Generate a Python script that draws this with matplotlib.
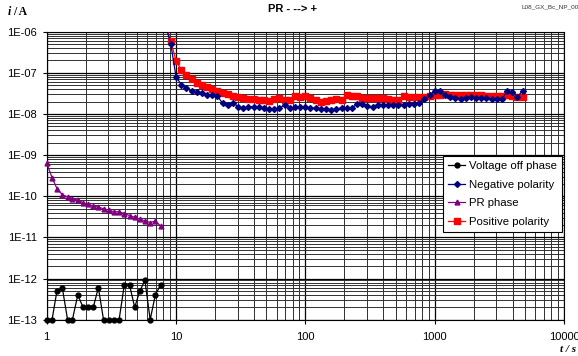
import matplotlib
matplotlib.use("Agg")
import matplotlib.pyplot as plt
from matplotlib.ticker import LogLocator, FixedLocator, NullFormatter

# ---------------- data ----------------
t_early = [1, 1.1, 1.2, 1.32, 1.45, 1.58, 1.74, 1.91, 2.09, 2.29, 2.51, 2.75,
           3.02, 3.31, 3.63, 3.98, 4.37, 4.79, 5.25, 5.75, 6.31, 6.92, 7.59]

voltage_off = [1e-13, 1e-13, 5e-13, 6e-13, 1e-13, 1e-13, 4e-13, 2e-13, 2e-13,
               2e-13, 6e-13, 1e-13, 1e-13, 1e-13, 1e-13, 7e-13, 7e-13, 2e-13,
               5e-13, 9e-13, 1e-13, 4e-13, 7e-13]

pr_phase = [6.3e-10, 2.85e-10, 1.54e-10, 1.1e-10, 9.6e-11, 8.8e-11, 8.0e-11,
            7.0e-11, 6.4e-11, 5.8e-11, 5.4e-11, 5.0e-11, 4.6e-11, 4.2e-11,
            4.2e-11, 3.8e-11, 3.4e-11, 3.1e-11, 2.8e-11, 2.5e-11, 2.3e-11,
            2.5e-11, 1.9e-11]

t_late = [8.32, 9.12, 10, 10.96, 12.02, 13.18, 14.45, 15.85, 17.38, 19.05,
          20.89, 22.91, 25.12, 27.54, 30.2, 33.11, 36.31, 39.81, 43.65, 47.86,
          52.48, 57.54, 63.1, 69.18, 75.86, 83.18, 91.2, 100, 109.6, 120.2,
          131.8, 144.5, 158.5, 173.8, 190.5, 208.9, 229.1, 251.2, 275.4, 302,
          331.1, 363.1, 398.1, 436.5, 478.6, 524.8, 575.4, 631, 691.8, 758.6,
          831.8, 912, 1000, 1096, 1202, 1318, 1445, 1585, 1738, 1905, 2089,
          2291, 2512, 2754, 3020, 3311, 3631, 3981, 4365, 4786]

negative = [1.4e-6, 4.9e-7, 8.05e-8, 5.2e-8, 4.25e-8, 3.58e-8, 3.48e-8, 3.15e-8,
            2.9e-8, 2.86e-8, 2.77e-8, 1.8e-8, 1.63e-8, 1.9e-8, 1.5e-8, 1.42e-8,
            1.48e-8, 1.52e-8, 1.48e-8, 1.41e-8, 1.33e-8, 1.31e-8, 1.37e-8,
            1.7e-8, 1.37e-8, 1.46e-8, 1.5e-8, 1.44e-8, 1.42e-8, 1.38e-8,
            1.35e-8, 1.32e-8, 1.25e-8, 1.35e-8, 1.38e-8, 1.38e-8, 1.42e-8,
            1.73e-8, 1.75e-8, 1.56e-8, 1.5e-8, 1.7e-8, 1.7e-8, 1.65e-8,
            1.63e-8, 1.63e-8, 1.7e-8, 1.73e-8, 1.75e-8, 1.85e-8, 2.27e-8,
            2.85e-8, 3.7e-8, 3.7e-8, 2.85e-8, 2.55e-8, 2.5e-8, 2.35e-8,
            2.45e-8, 2.55e-8, 2.45e-8, 2.45e-8, 2.45e-8, 2.35e-8, 2.35e-8,
            2.27e-8, 3.6e-8, 3.35e-8, 2.6e-8, 3.7e-8]

positive = [1.4e-6, 5.9e-7, 1.95e-7, 1.2e-7, 9.1e-8, 7.1e-8, 5.75e-8, 5.05e-8,
            4.45e-8, 4.0e-8, 3.62e-8, 3.24e-8, 3.06e-8, 2.8e-8, 2.62e-8,
            2.45e-8, 2.31e-8, 2.25e-8, 2.19e-8, 2.13e-8, 2.07e-8, 2.31e-8,
            2.38e-8, 2.23e-8, 2.19e-8, 2.7e-8, 2.64e-8, 2.67e-8, 2.5e-8,
            2.19e-8, 1.96e-8, 2.1e-8, 2.19e-8, 2.25e-8, 2.19e-8, 2.85e-8,
            2.8e-8, 2.74e-8, 2.45e-8, 2.4e-8, 2.4e-8, 2.42e-8, 2.45e-8,
            2.31e-8, 2.23e-8, 2.19e-8, 2.74e-8, 2.64e-8, 2.59e-8, 2.59e-8,
            2.64e-8, 2.7e-8, 2.85e-8, 2.92e-8, 2.98e-8, 2.92e-8, 2.92e-8,
            2.95e-8, 2.92e-8, 2.92e-8, 2.89e-8, 2.85e-8, 2.7e-8, 2.7e-8,
            2.7e-8, 2.74e-8, 2.85e-8, 2.74e-8, 2.55e-8, 2.55e-8]

x_ticks = [1, 10, 100, 1000, 10000]
x_ticklabels = ["1", "10", "100", "1000", "10000"]
y_ticks = [1e-13, 1e-12, 1e-11, 1e-10, 1e-9, 1e-8, 1e-7, 1e-6]
y_ticklabels = ["1E-13", "1E-12", "1E-11", "1E-10", "1E-09", "1E-08", "1E-07", "1E-06"]

# ---------------- figure ----------------
plt.rcParams['font.family'] = ['Liberation Sans', 'DejaVu Sans']
fig = plt.figure(figsize=(5.78, 3.56), dpi=100)
ax = fig.add_axes([46.7 / 578, 1 - 319.7 / 356, (564 - 46.7) / 578, (319.7 - 31.7) / 356])

ax.set_xscale('log')
ax.set_yscale('log')
ax.set_xlim(1, 10000)
ax.set_ylim(1e-13, 1e-6)

ax.xaxis.set_major_locator(FixedLocator(x_ticks))
ax.set_xticklabels(x_ticklabels)
ax.xaxis.set_minor_locator(LogLocator(base=10, subs=range(2, 10), numticks=20))
ax.xaxis.set_minor_formatter(NullFormatter())
ax.yaxis.set_major_locator(FixedLocator(y_ticks))
ax.set_yticklabels(y_ticklabels)
ax.yaxis.set_minor_locator(LogLocator(base=10, subs=range(2, 10), numticks=20))
ax.yaxis.set_minor_formatter(NullFormatter())

ax.grid(which='major', color='black', linewidth=0.9)
ax.grid(which='minor', color='#303030', linewidth=0.7)
ax.set_axisbelow(True)

ax.tick_params(axis='both', which='minor', length=0)
ax.tick_params(axis='x', which='major', direction='out', length=3, width=0.8,
               labelsize=8, pad=6)
ax.tick_params(axis='y', which='major', direction='out', length=3, width=0.8,
               labelsize=8, pad=4)
for s in ax.spines.values():
    s.set_color('black')
    s.set_linewidth(0.8)

h1, = ax.plot(t_early, voltage_off, color='black', marker='o', markersize=3.5,
              linewidth=0.9, clip_on=False, zorder=5, label='Voltage off phase')
h3, = ax.plot(t_early, pr_phase, color='#800080', marker='^', markersize=3.5,
              linewidth=0.9, clip_on=False, zorder=5, label='PR phase')
h4, = ax.plot(t_late, positive, color='#ff0000', marker='s', markersize=4.5,
              linewidth=0.9, zorder=4, label='Positive polarity')
h2, = ax.plot(t_late, negative, color='#000080', marker='D', markersize=3,
              linewidth=0.9, zorder=5, label='Negative polarity')

leg = ax.legend(handles=[h1, h2, h3, h4], loc='upper left',
                bbox_to_anchor=(0.766, 0.568), borderaxespad=0, fontsize=8.2,
                fancybox=False, framealpha=1, edgecolor='black',
                handlelength=1.5, labelspacing=0.75, borderpad=0.45,
                handletextpad=0.35)
leg.get_frame().set_linewidth(0.8)
leg.set_zorder(10)

fig.text(293 / 578, 1 - 9 / 356, "PR - --> +", ha='center', va='center',
         fontsize=8, fontweight='bold')
fig.text(8 / 578, 1 - 12 / 356, "i", ha='left', va='center', fontsize=8.5,
         fontweight='bold', fontstyle='italic', family='Liberation Serif')
fig.text(13 / 578, 1 - 12 / 356, "/ A", ha='left', va='center', fontsize=8.5,
         fontweight='bold', family='Liberation Serif')
fig.text(521 / 578, 1 - 7 / 356, "L08_GX_Bc_NP_00", ha='left', va='center',
         fontsize=4.6, color='#333333')
fig.text(560 / 578, 1 - 349 / 356, "t / s", ha='left', va='center', fontsize=8,
         fontweight='bold', fontstyle='italic', family='Liberation Serif')

fig.savefig("out.png", dpi=100)
